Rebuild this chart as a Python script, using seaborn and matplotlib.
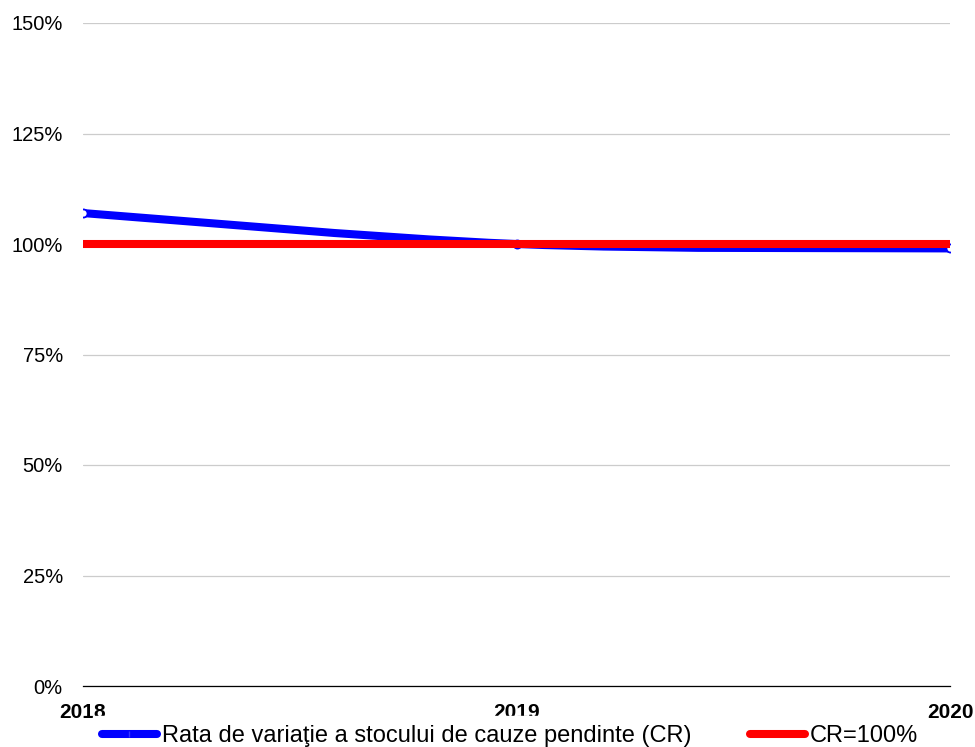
import matplotlib
matplotlib.use("Agg")
import matplotlib.pyplot as plt
from matplotlib.lines import Line2D
from matplotlib.path import Path
from matplotlib.patches import PathPatch
from matplotlib.ticker import FuncFormatter
import pandas as pd
import seaborn as sns

# data
years = [2018, 2019, 2020]
cr_values = [107, 100, 99]
target_values = [100, 100, 100]
cr_label = "Rata de variaţie a stocului de cauze pendinte (CR)"
target_label = "CR=100%"
y_ticks = [0, 25, 50, 75, 100, 125, 150]

BLUE = "#0000ff"
RED = "#ff0000"


def smooth_path(xs, ys):
    # Excel-like smoothed line: cubic Bezier segments through the data points
    verts = [(xs[0], ys[0])]
    codes = [Path.MOVETO]
    n = len(xs)
    for i in range(n - 1):
        x0, y0 = (xs[i - 1], ys[i - 1]) if i > 0 else (xs[i], ys[i])
        x1, y1 = xs[i], ys[i]
        x2, y2 = xs[i + 1], ys[i + 1]
        x3, y3 = (xs[i + 2], ys[i + 2]) if i + 2 < n else (x2, y2)
        c1 = (x1 + (x2 - x0) / 6, y1 + (y2 - y0) / 6)
        c2 = (x2 - (x3 - x1) / 6, y2 - (y3 - y1) / 6)
        verts += [c1, c2, (x2, y2)]
        codes += [Path.CURVE4] * 3
    return Path(verts, codes)


sns.set_theme(style="white")
plt.rcParams["font.family"] = ["Liberation Sans", "DejaVu Sans"]
plt.rcParams["text.color"] = "black"

df = pd.DataFrame({"year": years, "cr": cr_values, "target": target_values})

fig = plt.figure(figsize=(9.75, 7.47), dpi=100)
ax = fig.add_axes([83 / 975, 1 - 686 / 747, (950 - 83) / 975, (686 - 23) / 747])

ax.add_patch(PathPatch(smooth_path(years, cr_values), facecolor="none",
                       edgecolor=BLUE, linewidth=5.8, capstyle="round", zorder=3))
sns.scatterplot(data=df, x="year", y="cr", ax=ax, marker="o", s=34,
                facecolor="white", edgecolor=BLUE, linewidth=1.3, zorder=3.5)
sns.lineplot(data=df, x="year", y="target", ax=ax, color=RED,
             linewidth=5.8, solid_capstyle="butt", zorder=4)

ax.set_xlim(years[0], years[-1])
ax.set_ylim(0, 150)
ax.set_yticks(y_ticks)
ax.yaxis.set_major_formatter(FuncFormatter(lambda v, _: f"{v:.0f}%"))
ax.set_xticks(years)
ax.set_xticklabels([str(y) for y in years], fontweight="bold")
ax.tick_params(axis="y", labelsize=14.5, pad=14.5, length=0, colors="black")
ax.tick_params(axis="x", labelsize=15, pad=12, length=0, colors="black")
ax.set_xlabel("")
ax.set_ylabel("")

ax.grid(axis="y", color="#cccccc", linewidth=0.9)
ax.grid(axis="x", visible=False)
for side in ["left", "right", "top"]:
    ax.spines[side].set_visible(False)
ax.spines["bottom"].set_color("black")
ax.spines["bottom"].set_linewidth(0.9)
ax.spines["bottom"].set_zorder(6)

handles = [
    Line2D([0], [0], color=BLUE, linewidth=5.8, marker="|", markersize=5,
           markeredgecolor="#3333ff", solid_capstyle="round"),
    Line2D([0], [0], color=RED, linewidth=5.8, solid_capstyle="round"),
]
leg = fig.legend(handles, [cr_label, target_label], loc="upper center",
                 bbox_to_anchor=(0.523, 1 - 716 / 747), ncol=2, frameon=True,
                 fontsize=17, labelcolor="black", handlelength=2.33,
                 handletextpad=0.2, columnspacing=2.5, borderpad=0.38,
                 borderaxespad=0)
leg.get_frame().set_facecolor("white")
leg.get_frame().set_edgecolor("white")
leg.get_frame().set_alpha(1)
leg.get_frame().set_boxstyle("square", pad=0)
leg.set_zorder(10)

fig.savefig("out.png", dpi=100, facecolor="white")
